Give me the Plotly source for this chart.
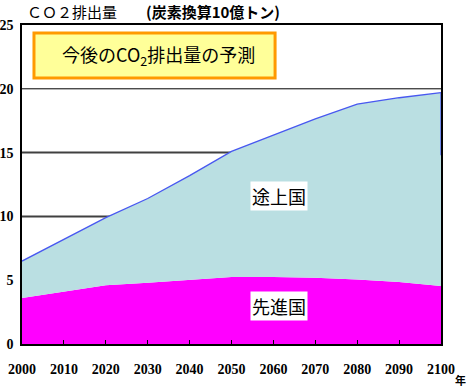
import plotly.graph_objects as go

years = [2000, 2010, 2020, 2030, 2040, 2050, 2060, 2070, 2080, 2090, 2100]
developed = [3.6, 4.1, 4.6, 4.8, 5.0, 5.25, 5.25, 5.2, 5.05, 4.85, 4.55]
total = [6.5, 8.2, 9.9, 11.4, 13.2, 15.1, 16.4, 17.65, 18.8, 19.3, 19.7]
end_drop_x = [2100, 2100]
end_drop_y = [19.7, 14.8]
x_ticks = [2000, 2010, 2020, 2030, 2040, 2050, 2060, 2070, 2080, 2090, 2100]
y_ticks = [0, 5, 10, 15, 20, 25]

fig = go.Figure()
fig.add_trace(go.Scatter(x=years, y=developed, mode="lines", fill="tozeroy",
                         fillcolor="#FF00FF", line=dict(width=0, color="#FF00FF"),
                         showlegend=False, hoverinfo="skip"))
fig.add_trace(go.Scatter(x=years, y=total, mode="lines", fill="tonexty",
                         fillcolor="#BADFE2", line=dict(width=1.3, color="#4858F0"),
                         showlegend=False, hoverinfo="skip"))
fig.add_trace(go.Scatter(x=end_drop_x, y=end_drop_y, mode="lines",
                         line=dict(width=1.3, color="#4858F0"),
                         showlegend=False, hoverinfo="skip"))

shapes = []
for yv, col, w in [(20, "#000000", 1), (15, "#404040", 2), (10, "#404040", 2)]:
    shapes.append(dict(type="line", xref="paper", yref="y", x0=0, x1=1, y0=yv, y1=yv,
                       line=dict(color=col, width=w), layer="below"))
# title box
shapes.append(dict(type="rect", xref="paper", yref="paper", x0=0.0286, x1=0.604,
                   y0=0.834, y1=0.975, fillcolor="#FFFF99",
                   line=dict(color="#FF9900", width=3), layer="above"))
fig.update_layout(shapes=shapes)

annotations = [
    dict(text="ＣＯ２排出量", x=(25 - 22) / 419, y=1 + (25 - 12) / 319, xref="paper", yref="paper",
         xanchor="left", yanchor="middle", showarrow=False,
         font=dict(family="Noto Sans CJK JP", size=15, color="black")),
    dict(text="<b>(炭素換算10億トン)</b>", x=(144 - 22) / 419, y=1 + (25 - 12) / 319, xref="paper", yref="paper",
         xanchor="left", yanchor="middle", showarrow=False,
         font=dict(family="Noto Sans CJK JP", size=15, color="black")),
    dict(text="今後のCO<sub>2</sub>排出量の予測", x=(158 - 22) / 419, y=1 - (56 - 25) / 319,
         xref="paper", yref="paper", xanchor="center", yanchor="middle", showarrow=False,
         font=dict(family="Noto Sans CJK JP", size=18, color="black")),
    dict(text="途上国", x=(279 - 22) / 419, y=1 - (196 - 25) / 319,
         xref="paper", yref="paper", xanchor="center", yanchor="middle", showarrow=False,
         bgcolor="white", borderpad=1,
         font=dict(family="Noto Sans CJK JP", size=18, color="black")),
    dict(text="先進国", x=(279 - 22) / 419, y=1 - (306 - 25) / 319,
         xref="paper", yref="paper", xanchor="center", yanchor="middle", showarrow=False,
         bgcolor="white", borderpad=1,
         font=dict(family="Noto Sans CJK JP", size=18, color="black")),
    dict(text="<b>年</b>", x=(460 - 22) / 419, y=-(380 - 344) / 319,
         xref="paper", yref="paper", xanchor="center", yanchor="middle", showarrow=False,
         borderpad=0,
         font=dict(family="Noto Sans CJK JP", size=11, color="black")),
]
fig.update_layout(annotations=annotations)

fig.update_xaxes(range=[2000, 2100], tickvals=x_ticks, ticktext=[f"<b>{t}</b>" for t in x_ticks],
                 showgrid=False, zeroline=False, showline=True, linecolor="black", linewidth=1.5,
                 mirror=True, ticks="inside", ticklen=4, tickcolor="black", tickwidth=1,
                 ticklabelstandoff=11, automargin=False,
                 tickfont=dict(family="Liberation Serif", size=14, color="black"))
fig.update_yaxes(range=[0, 25], tickvals=y_ticks, ticktext=[f"<b>{t}</b>" for t in y_ticks],
                 showgrid=False, zeroline=False, showline=True, linecolor="black", linewidth=1.5,
                 mirror=True, ticks="", ticklabelstandoff=4, automargin=False,
                 tickfont=dict(family="Liberation Serif", size=14, color="black"))

fig.update_layout(width=466, height=388, margin=dict(l=22, r=25, t=25, b=44),
                  plot_bgcolor="white", paper_bgcolor="white", showlegend=False)

fig.write_html("out.html", config={"displayModeBar": False},
               post_script="document.body.style.margin='0';")
